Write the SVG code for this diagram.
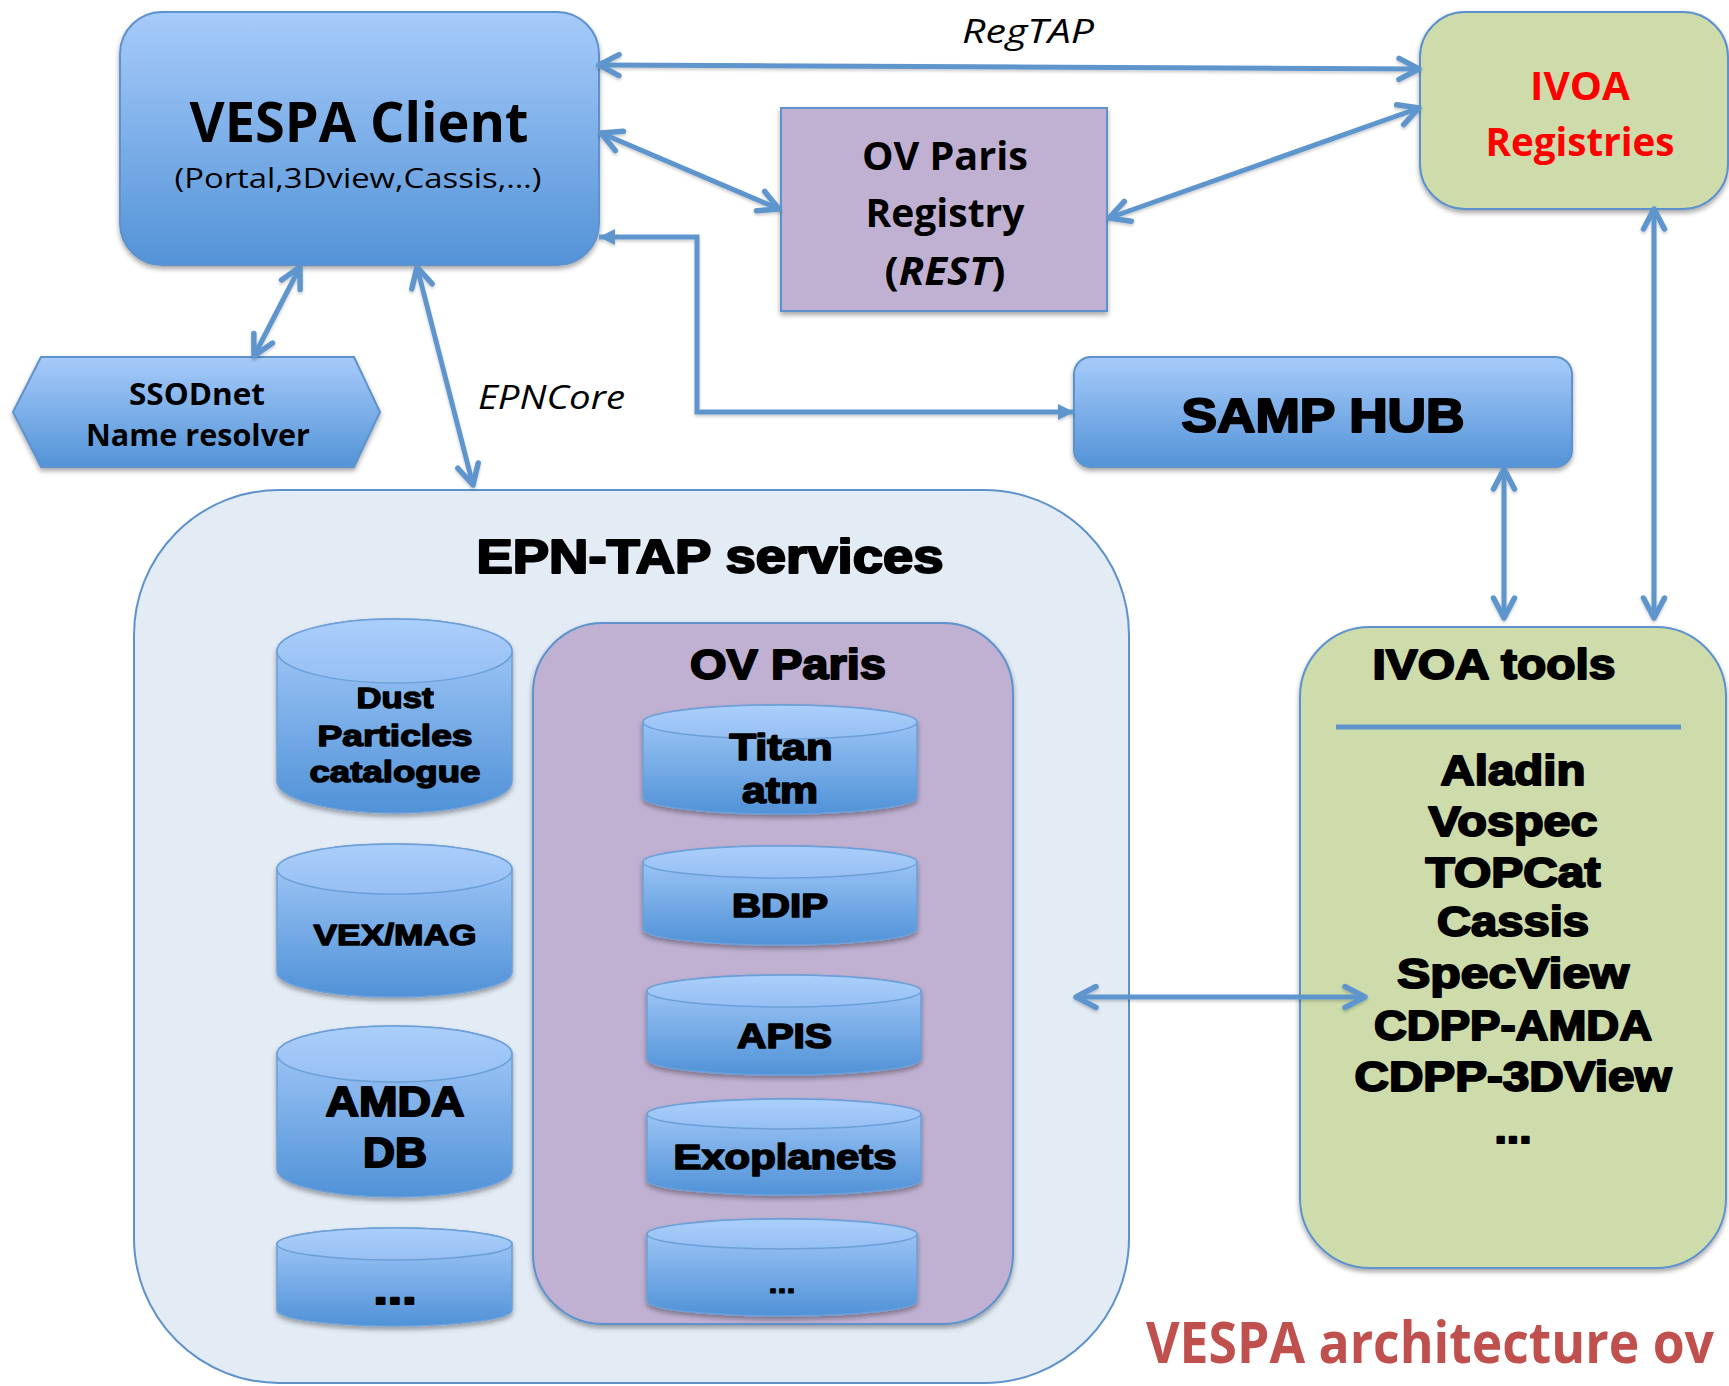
<svg xmlns="http://www.w3.org/2000/svg" width="1729" height="1386" viewBox="0 0 1729 1386">
<style>
.cal{font-family:"Open Sans","Noto Sans","Liberation Sans",sans-serif;}
.b{font-weight:bold;}
.it{font-style:italic;}
.blk{font-family:"Liberation Sans",Arial,sans-serif;font-weight:bold;fill:#000;stroke:#000;stroke-linejoin:round;}
.box{stroke:#5d92cc;stroke-width:2;}
.cyl{fill:url(#gCyl);stroke:#6c9fd7;stroke-width:1.5;}
.cyltop{fill:url(#gTop);stroke:#6c9fd7;stroke-width:1.5;}
.con{fill:none;stroke:#5f95cd;stroke-width:5;}
</style>
<defs>
<linearGradient id="gBlue" x1="0" y1="0" x2="0" y2="1"><stop offset="0" stop-color="#a7cbfa"/><stop offset="1" stop-color="#5393d7"/></linearGradient>
<linearGradient id="gCyl" x1="0" y1="0" x2="0" y2="1"><stop offset="0" stop-color="#a8ccfa"/><stop offset="1" stop-color="#5092d7"/></linearGradient>
<linearGradient id="gTop" x1="0" y1="0" x2="0" y2="1"><stop offset="0" stop-color="#abcffc"/><stop offset="1" stop-color="#96bff2"/></linearGradient>
<filter id="sh" x="-10%" y="-10%" width="120%" height="130%"><feDropShadow dx="0" dy="3" stdDeviation="2.5" flood-color="#000" flood-opacity="0.35"/></filter>
<filter id="lsh" x="-5%" y="-5%" width="110%" height="110%"><feDropShadow dx="0" dy="2" stdDeviation="1.5" flood-color="#000" flood-opacity="0.2"/></filter>
<marker id="ah" markerUnits="userSpaceOnUse" viewBox="-28 -16 32 32" markerWidth="32" markerHeight="32" refX="0" refY="0" orient="auto-start-reverse"><path d="M-20,-10.5 L0,0 L-20,10.5" fill="none" stroke="#5f95cd" stroke-width="5.5" stroke-linecap="round" stroke-linejoin="round"/></marker>
<marker id="tri" markerUnits="userSpaceOnUse" viewBox="-18 -10 20 20" markerWidth="20" markerHeight="20" refX="0" refY="0" orient="auto-start-reverse"><path d="M-16,-8 L0,0 L-16,8 Z" fill="#5f95cd"/></marker>
</defs>
<rect width="1729" height="1386" fill="#fff"/>

<g id="vespa-client">
<rect x="120" y="12" width="479" height="253" rx="42" fill="url(#gBlue)" class="box" stroke-width="1.5" filter="url(#sh)"/>
<text x="359" y="142" class="cal b" font-size="56" text-anchor="middle" textLength="339" lengthAdjust="spacingAndGlyphs">VESPA Client</text>
<text x="358" y="188" class="cal" font-size="28" text-anchor="middle" textLength="367" lengthAdjust="spacingAndGlyphs">(Portal,3Dview,Cassis,…)</text>
</g>

<g id="ssodnet">
<polygon points="13,412 41,357 354,357 380,412 354,467 41,467" fill="url(#gBlue)" class="box" stroke-width="1.5" filter="url(#sh)"/>
<text x="197" y="405" class="cal b" font-size="31" text-anchor="middle" textLength="136" lengthAdjust="spacingAndGlyphs">SSODnet</text>
<text x="198" y="446" class="cal b" font-size="31" text-anchor="middle" textLength="224" lengthAdjust="spacingAndGlyphs">Name resolver</text>
</g>

<g id="ov-paris-registry">
<rect x="781" y="108" width="326" height="203" fill="#c0b1d2" class="box" filter="url(#sh)"/>
<text x="945" y="170" class="cal b" font-size="39" text-anchor="middle" textLength="166" lengthAdjust="spacingAndGlyphs">OV Paris</text>
<text x="945" y="227" class="cal b" font-size="39" text-anchor="middle" textLength="159" lengthAdjust="spacingAndGlyphs">Registry</text>
<text x="945" y="285" class="cal b" font-size="39" text-anchor="middle" textLength="121" lengthAdjust="spacingAndGlyphs">(<tspan class="it">REST</tspan>)</text>
</g>

<g id="ivoa-registries">
<rect x="1420" y="12" width="308" height="197" rx="45" fill="#cedcab" class="box" filter="url(#sh)"/>
<text x="1580" y="100" class="cal b" font-size="39" fill="#ff0000" text-anchor="middle" textLength="100" lengthAdjust="spacingAndGlyphs">IVOA</text>
<text x="1580" y="156" class="cal b" font-size="39" fill="#ff0000" text-anchor="middle" textLength="189" lengthAdjust="spacingAndGlyphs">Registries</text>
</g>

<g id="samp-hub">
<rect x="1074" y="357" width="498" height="110" rx="17" fill="url(#gBlue)" class="box" stroke-width="1.5" filter="url(#sh)"/>
<text x="1323" y="432" class="blk" font-size="49" stroke-width="2.2" text-anchor="middle" textLength="283" lengthAdjust="spacingAndGlyphs">SAMP HUB</text>
</g>

<g id="epn-tap-services">
<rect x="134" y="490" width="995" height="893" rx="145" fill="#e3ebf5" class="box"/>
<text x="710" y="573" class="blk" font-size="49" stroke-width="2.2" text-anchor="middle" textLength="467" lengthAdjust="spacingAndGlyphs">EPN-TAP services</text>
</g>

<g id="db-dust">
<path d="M277,651 A117.5,32 0 0 1 512,651 V781 A117.5,32 0 0 1 277,781 Z" class="cyl" filter="url(#sh)"/>
<ellipse cx="394.5" cy="651" rx="117.5" ry="32" class="cyltop"/>
<text x="395" y="708" class="blk" font-size="29" stroke-width="1.4" text-anchor="middle" textLength="77" lengthAdjust="spacingAndGlyphs">Dust</text>
<text x="395" y="746" class="blk" font-size="29" stroke-width="1.4" text-anchor="middle" textLength="155" lengthAdjust="spacingAndGlyphs">Particles</text>
<text x="395" y="782" class="blk" font-size="29" stroke-width="1.4" text-anchor="middle" textLength="171" lengthAdjust="spacingAndGlyphs">catalogue</text>
</g>

<g id="db-vexmag">
<path d="M277,869 A117.5,25 0 0 1 512,869 V972 A117.5,25 0 0 1 277,972 Z" class="cyl" filter="url(#sh)"/>
<ellipse cx="394.5" cy="869" rx="117.5" ry="25" class="cyltop"/>
<text x="395" y="945" class="blk" font-size="30" stroke-width="1.4" text-anchor="middle" textLength="163" lengthAdjust="spacingAndGlyphs">VEX/MAG</text>
</g>

<g id="db-amda">
<path d="M277,1054 A117.5,28 0 0 1 512,1054 V1169 A117.5,28 0 0 1 277,1169 Z" class="cyl" filter="url(#sh)"/>
<ellipse cx="394.5" cy="1054" rx="117.5" ry="28" class="cyltop"/>
<text x="395" y="1116" class="blk" font-size="42" stroke-width="2" text-anchor="middle" textLength="139" lengthAdjust="spacingAndGlyphs">AMDA</text>
<text x="395" y="1167" class="blk" font-size="42" stroke-width="2" text-anchor="middle" textLength="64" lengthAdjust="spacingAndGlyphs">DB</text>
</g>

<g id="db-more-left">
<path d="M277,1244 A117.5,16 0 0 1 512,1244 V1310 A117.5,16 0 0 1 277,1310 Z" class="cyl" filter="url(#sh)"/>
<ellipse cx="394.5" cy="1244" rx="117.5" ry="16" class="cyltop"/>
<text x="395" y="1304" class="blk" font-size="42" stroke-width="2" text-anchor="middle" textLength="43" lengthAdjust="spacingAndGlyphs">...</text>
</g>

<g id="ov-paris">
<rect x="533" y="623" width="480" height="701" rx="70" fill="#c0b1d2" class="box" filter="url(#sh)"/>
<text x="788" y="679" class="blk" font-size="43" stroke-width="2" text-anchor="middle" textLength="196" lengthAdjust="spacingAndGlyphs">OV Paris</text>
</g>

<g id="db-titan">
<path d="M643,722 A137,17 0 0 1 917,722 V797 A137,17 0 0 1 643,797 Z" class="cyl" filter="url(#sh)"/>
<ellipse cx="780" cy="722" rx="137" ry="17" class="cyltop"/>
<text x="781" y="760" class="blk" font-size="36" stroke-width="1.7" text-anchor="middle" textLength="103" lengthAdjust="spacingAndGlyphs">Titan</text>
<text x="780" y="803" class="blk" font-size="36" stroke-width="1.7" text-anchor="middle" textLength="76" lengthAdjust="spacingAndGlyphs">atm</text>
</g>

<g id="db-bdip">
<path d="M643,862 A137,16 0 0 1 917,862 V929 A137,16 0 0 1 643,929 Z" class="cyl" filter="url(#sh)"/>
<ellipse cx="780" cy="862" rx="137" ry="16" class="cyltop"/>
<text x="780" y="917" class="blk" font-size="34" stroke-width="1.7" text-anchor="middle" textLength="96" lengthAdjust="spacingAndGlyphs">BDIP</text>
</g>

<g id="db-apis">
<path d="M647,991 A137,16 0 0 1 921,991 V1059 A137,16 0 0 1 647,1059 Z" class="cyl" filter="url(#sh)"/>
<ellipse cx="784" cy="991" rx="137" ry="16" class="cyltop"/>
<text x="784.5" y="1048" class="blk" font-size="35" stroke-width="1.7" text-anchor="middle" textLength="95" lengthAdjust="spacingAndGlyphs">APIS</text>
</g>

<g id="db-exoplanets">
<path d="M647,1114 A137,15 0 0 1 921,1114 V1180 A137,15 0 0 1 647,1180 Z" class="cyl" filter="url(#sh)"/>
<ellipse cx="784" cy="1114" rx="137" ry="15" class="cyltop"/>
<text x="785" y="1169" class="blk" font-size="35" stroke-width="1.7" text-anchor="middle" textLength="223" lengthAdjust="spacingAndGlyphs">Exoplanets</text>
</g>

<g id="db-more-ovparis">
<path d="M647,1234 A135,15 0 0 1 917,1234 V1301 A135,15 0 0 1 647,1301 Z" class="cyl" filter="url(#sh)"/>
<ellipse cx="782" cy="1234" rx="135" ry="15" class="cyltop"/>
<text x="782" y="1293" class="blk" font-size="28" stroke-width="1" text-anchor="middle" textLength="27" lengthAdjust="spacingAndGlyphs">...</text>
</g>

<g id="ivoa-tools">
<rect x="1300" y="627" width="426" height="641" rx="70" fill="#cedcab" class="box" filter="url(#sh)"/>
<text x="1494" y="679" class="blk" font-size="43" stroke-width="2" text-anchor="middle" textLength="243" lengthAdjust="spacingAndGlyphs">IVOA tools</text>
<line x1="1336" y1="727" x2="1681" y2="727" stroke="#5d92cc" stroke-width="5"/>
<g class="blk" font-size="42" stroke-width="2" text-anchor="middle">
<text x="1513" y="785" textLength="145" lengthAdjust="spacingAndGlyphs">Aladin</text>
<text x="1513" y="836" textLength="169" lengthAdjust="spacingAndGlyphs">Vospec</text>
<text x="1513" y="887" textLength="175" lengthAdjust="spacingAndGlyphs">TOPCat</text>
<text x="1513" y="936" textLength="152" lengthAdjust="spacingAndGlyphs">Cassis</text>
<text x="1513" y="988" textLength="232" lengthAdjust="spacingAndGlyphs">SpecView</text>
<text x="1513" y="1040" textLength="278" lengthAdjust="spacingAndGlyphs">CDPP-AMDA</text>
<text x="1513" y="1091" textLength="317" lengthAdjust="spacingAndGlyphs">CDPP-3DView</text>
<text x="1513" y="1143" textLength="37" lengthAdjust="spacingAndGlyphs">...</text>
</g>
</g>

<g id="connectors" filter="url(#lsh)">
<path d="M599,65 L1419,69" class="con" marker-start="url(#ah)" marker-end="url(#ah)"/>
<path d="M601,133 L779,209" class="con" marker-start="url(#ah)" marker-end="url(#ah)"/>
<path d="M1109,218 L1419,108" class="con" marker-start="url(#ah)" marker-end="url(#ah)"/>
<path d="M300,267 L254,356" class="con" marker-start="url(#ah)" marker-end="url(#ah)"/>
<path d="M417,267 L473,485" class="con" marker-start="url(#ah)" marker-end="url(#ah)"/>
<path d="M599,237 H697 V412 H1074" class="con" stroke-width="4" marker-start="url(#tri)" marker-end="url(#tri)"/>
<path d="M1504,469 V618" class="con" marker-start="url(#ah)" marker-end="url(#ah)"/>
<path d="M1654,209 V618" class="con" stroke-width="3.5" marker-start="url(#ah)" marker-end="url(#ah)"/>
<path d="M1076,997 H1365" class="con" marker-start="url(#ah)" marker-end="url(#ah)"/>
</g>

<g id="labels">
<text x="962" y="43" class="cal it" font-size="33" textLength="132" lengthAdjust="spacingAndGlyphs">RegTAP</text>
<text x="478" y="409" class="cal it" font-size="32" textLength="147" lengthAdjust="spacingAndGlyphs">EPNCore</text>
<text x="1146" y="1363" class="cal b" font-size="57" fill="#c0504d" textLength="568" lengthAdjust="spacingAndGlyphs">VESPA architecture ov</text>
</g>
</svg>
